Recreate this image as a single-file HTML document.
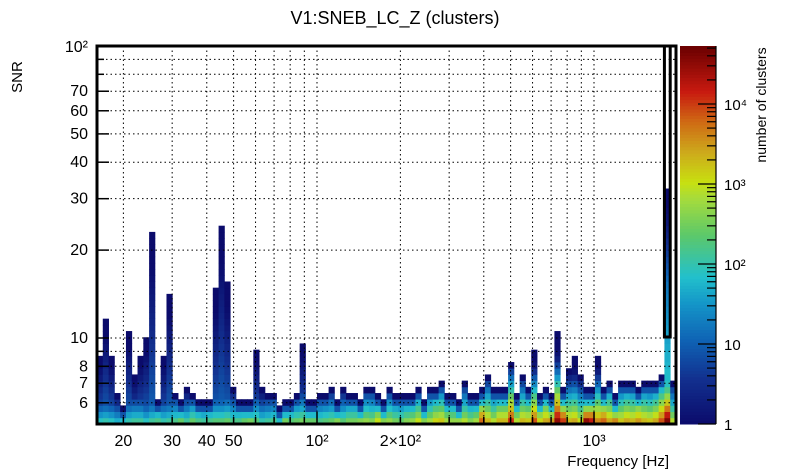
<!DOCTYPE html>
<html><head><meta charset="utf-8">
<style>
html,body{margin:0;padding:0;background:#fff;}
svg{display:block;font-family:"Liberation Sans",sans-serif;}
</style></head>
<body>
<svg id="chart" width="805" height="472" viewBox="0 0 805 472" xmlns="http://www.w3.org/2000/svg">
  <text x="395" y="24" font-size="18" text-anchor="middle">V1:SNEB_LC_Z (clusters)</text>
  <text transform="translate(22,77) rotate(-90)" font-size="15" text-anchor="middle">SNR</text>
  <text x="669" y="466" font-size="15" text-anchor="end">Frequency [Hz]</text>
  <text transform="translate(766,105) rotate(-90)" font-size="14" text-anchor="middle">number of clusters</text>
  <g id="cells"></g>
  <g id="grid"></g>
  <g id="axes"></g>
  <g id="cbar"></g>
</svg>
<script>
// ---- data ----
const colHeights = [11,17,11,5,3,15,8,11,14,31, 4,11,21,5,4,6,5,4,4,4, 22,32,23,6,4,4,4,12,6,5,
  5,3,4,4,5,13,4,4,5,5, 6,4,6,5,5,4,6,6,5,4, 6,5,5,5,5,6,4,6,6,7, 5,5,4,7,5,5,6,8,6,6,
  6,10,5,8,6,12,5,6,5,15, 6,9,11,8,6,6,11,6,7,5, 7,7,7,6,7,7,7,8,38,7];
const colBaseLog = [1.9,2.0,1.9,1.7,1.8,2.0,2.1,2.1,1.9,2.1, 2.2,2.0,2.1,2.2,2.4,2.1,2.4,2.2,2.1,2.2,
  2.3,2.3,2.4,2.2,2.2,2.4,2.5,2.3,2.0,2.1, 2.2,2.3,2.5,2.3,2.4,2.5,2.4,2.4,2.2,2.3,
  2.4,2.6,2.3,2.5,2.5,2.6,2.7,2.6,3.0,2.6, 2.7,2.5,2.4,2.6,2.7,3.0,2.6,2.8,3.1,3.2,
  2.8,2.7,3.4,2.9,2.6,2.8,3.8,3.3,2.9,3.3, 3.3,4.1,2.9,3.3,3.2,3.9,3.1,3.4,3.5,4.5,
  4.0,3.3,3.4,3.0,4.5,4.2,3.6,3.8,3.4,3.6, 3.2,3.4,3.3,3.5,3.3,3.2,3.4,3.9,4.6,2.9];
const tallColIndex = 98;
const tallColLog = [4.6,4.2,3.7,3.2,2.7,2.2,1.9,1.8,1.8,1.75,1.7,1.7,1.65,1.6,1.6,1.55,1.5,1.45,1.4,1.35,
  1.3,1.25,1.2,1.1,1.0,0.9,0.8,0.7,0.6,0.5,0.4,0.3,0.2,0.1,0.05,0,0,0];
const yTickVals = [6,7,8,9,10,20,30,40,50,60,70,80,90,100];
const yTickLabels = ["6","7","8","","10","20","30","40","50","60","70","","",""];
const xTickVals = [20,30,40,50,60,70,80,90,100,200,300,400,500,600,700,800,900,1000];
const xTickLabels = ["20","30","40","50","","","","","10²","2×10²","","","","","","","","10³"];
const cbarDecades = [0,1,2,3,4];
const cbarLabels = ["1","10","10²","10³","10⁴"];

// ---- geometry ----
const PL=97, PR=676, PT=46, PB=424;
const NCOLS=100, NROWS=61;
const CBL=680, CBR=716, CBMAX=4.725;
const xPix = f => 317 + 277*(Math.log10(f)-2);
const yPix = s => 338 - 292*(Math.log10(s)-1);
const colW=(PR-PL)/NCOLS, rowH=(PB-PT)/NROWS;
const NS="http://www.w3.org/2000/svg";
function mk(tag, attrs, parent){const e=document.createElementNS(NS,tag);for(const k in attrs)e.setAttribute(k,attrs[k]);parent.appendChild(e);return e;}

const stops=[[0,[11,11,107]],[0.12,[18,48,143]],[0.22,[15,98,180]],[0.32,[20,150,200]],[0.39,[34,192,204]],
 [0.5,[92,200,106]],[0.6,[168,220,58]],[0.64,[200,224,16]],[0.72,[205,169,28]],[0.8,[207,106,20]],[0.88,[200,26,16]],[1,[106,0,0]]];
function color(lg){let t=Math.max(0,Math.min(1,lg/CBMAX));
  for(let i=1;i<stops.length;i++){if(t<=stops[i][0]){const a=stops[i-1],b=stops[i];const u=(t-a[0])/(b[0]-a[0]);
    const c=a[1].map((v,j)=>Math.round(v+(b[1][j]-v)*u));return `rgb(${c[0]},${c[1]},${c[2]})`;}}
  return 'rgb(106,0,0)';}

// ---- cells ----
const cells=document.getElementById('cells');
colHeights.forEach((h,c)=>{
  const x=PL+c*colW, L=colBaseLog[c];
  for(let r=0;r<h;r++){
    const tail = 1.1*(1 - r/(h*0.8));
    const lg = c===tallColIndex ? tallColLog[r] : Math.max(0, Math.min(Math.max(L-0.42*r, tail), (h-1-r)*0.9));
    const el=mk('rect',{x:x.toFixed(2),y:(PB-(r+1)*rowH).toFixed(2),width:(colW+0.4).toFixed(2),height:(rowH+0.4).toFixed(2),fill:color(lg)},cells);
    
    
  }
});

// ---- grid ----
const grid=document.getElementById('grid');
yTickVals.forEach(v=>{const y=yPix(v);if(y<=PT+1)return;
  const el=mk('line',{x1:PL,x2:PR,y1:y,y2:y,stroke:'#000','stroke-width':1,'stroke-dasharray':'1.5,3'},grid);
  });
xTickVals.forEach(v=>{const x=xPix(v);
  const el=mk('line',{x1:x,x2:x,y1:PT,y2:PB,stroke:'#000','stroke-width':1,'stroke-dasharray':'1.5,3'},grid);
  });

// ---- axes ----
const axes=document.getElementById('axes');
yTickVals.forEach((v,i)=>{const y=yPix(v);const len=yTickLabels[i]?12:7;
  const t=mk('line',{x1:PL,x2:PL+len,y1:y,y2:y,stroke:'#000','stroke-width':1.5},axes);
  
  if(yTickLabels[i]){const tx=mk('text',{x:88,y:y+5,'font-size':16,'text-anchor':'end'},axes);tx.textContent=yTickLabels[i];
    }});
{const tx=mk('text',{x:88,y:PT+6,'font-size':16,'text-anchor':'end'},axes);tx.textContent='10²';
  }
xTickVals.forEach((v,i)=>{const x=xPix(v);const len=(v===100||v===1000)?12:7;
  const t=mk('line',{x1:x,x2:x,y1:PB,y2:PB-len,stroke:'#000','stroke-width':1.5},axes);
  
  if(xTickLabels[i]){const tx=mk('text',{x:x,y:446,'font-size':16,'text-anchor':'middle'},axes);tx.textContent=xTickLabels[i];
    }});
const frame=mk('rect',{x:PL,y:PT,width:PR-PL,height:PB-PT,fill:'none',stroke:'#000','stroke-width':3},axes);

{const bx=PL+tallColIndex*colW;
 const box=mk('rect',{x:bx,y:PT,width:colW,height:337-PT,fill:'none',stroke:'#000','stroke-width':3},axes);
 }

// ---- colorbar ----
const cbar=document.getElementById('cbar');
const nSeg=120;
for(let i=0;i<nSeg;i++){const y0=PB-(i+1)*(PB-PT)/nSeg;
  const el=mk('rect',{x:CBL,y:y0.toFixed(2),width:CBR-CBL,height:((PB-PT)/nSeg+0.5).toFixed(2),fill:color((i+0.5)/nSeg*CBMAX)},cbar);
  }
const cbY = lg => PB - (PB-PT)*lg/CBMAX;
cbarDecades.forEach((d,i)=>{
  for(let m=1;m<10;m++){const lg=d+Math.log10(m);if(lg>CBMAX)break;const y=cbY(lg);
    const t=mk('line',{x1:CBR,x2:CBR-(m===1?18:9),y1:y,y2:y,stroke:'#000','stroke-width':1.2},cbar);
    }
  const tx=mk('text',{x:724,y:cbY(d)+6,'font-size':15},cbar);tx.textContent=cbarLabels[i];
  
});
const cbf=mk('line',{x1:CBR,x2:CBR,y1:PT,y2:PB,stroke:'#000','stroke-width':1.2},cbar);

</script>
</body></html>
